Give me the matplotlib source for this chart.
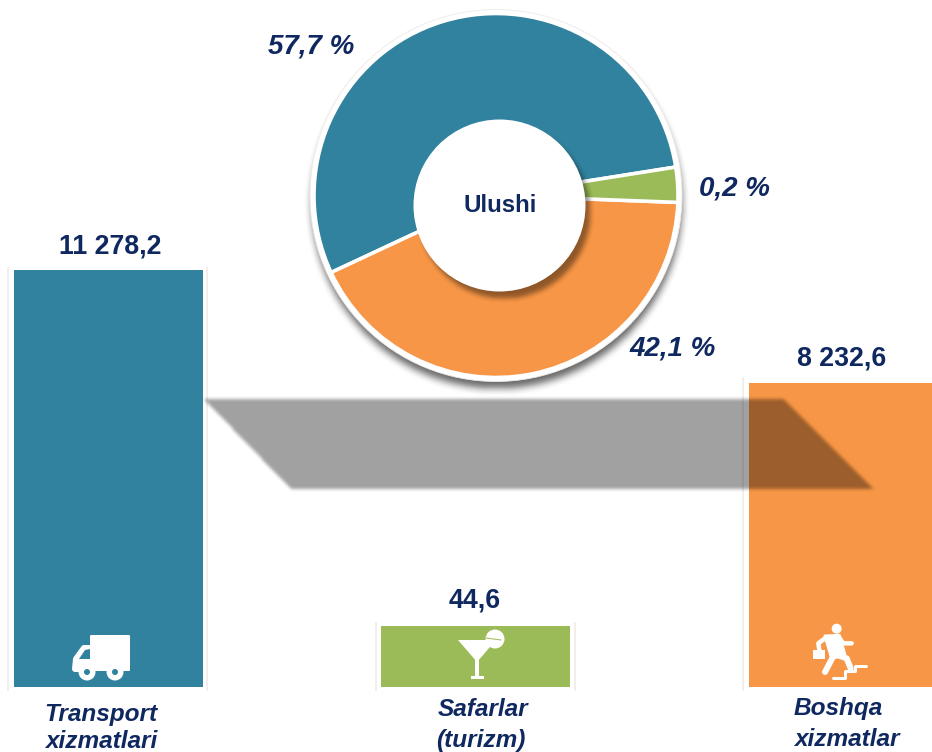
import numpy as np
import matplotlib
matplotlib.use('Agg')
import matplotlib.pyplot as plt
from matplotlib.patches import Circle, Polygon
from matplotlib.path import Path

# Barlar
categories = ['Transport\nxizmatlari', 'Safarlar\n(turizm)', 'Boshqa\nxizmatlar']
bar_values = [11278.2, 1654, 8232.6]  # Safarlar bar is not to scale in the picture
bar_labels = ['11 278,2', '44,6', '8 232,6']

# Halqa: slice sizes as drawn, the printed shares are in share_labels
share_sizes = [54.4, 42.4, 3.1]
share_labels = ['57,7 %', '42,1 %', '0,2 %']

TEAL = '#31829e'
ORANGE = '#f79646'
GREEN = '#9bbb59'
NAVY = '#0f2860'
W, H = 932, 752
FONT = 'Liberation Sans'


def py(y):
    # picture pixels run downwards, the axes upwards
    return H - y


def lw(px):
    return px * 0.72


xx, yy = np.meshgrid(np.arange(W) + 0.5, np.arange(H) + 0.5)


def soft_shadow(ax, mask, blur, alpha, z):
    k = np.ones(blur) / blur
    m = mask.astype(float)
    for _ in range(2):
        m = np.apply_along_axis(lambda r: np.convolve(r, k, mode='same'), 0, m)
        m = np.apply_along_axis(lambda r: np.convolve(r, k, mode='same'), 1, m)
    rgba = np.zeros((H, W, 4))
    rgba[..., 3] = m * alpha
    ax.imshow(rgba, extent=(0, W, 0, H), origin='lower', aspect='auto',
              zorder=z, interpolation='bilinear')


def circle_mask(cx, cy, r):
    return (xx - cx) ** 2 + (yy - py(cy)) ** 2 <= r ** 2


def poly(ax, pts, color='white', z=6, edge=0):
    ax.add_patch(Polygon([(x, py(y)) for x, y in pts], closed=True, fc=color,
                         ec=color if edge else 'none', lw=lw(edge),
                         joinstyle='round', zorder=z))


def dot(ax, x, y, r, color='white', z=6):
    ax.add_patch(Circle((x, py(y)), r, fc=color, ec='none', zorder=z))


def stroke(ax, pts, px, color='white', z=6):
    ax.plot([p[0] for p in pts], [py(p[1]) for p in pts], color=color, lw=lw(px),
            solid_capstyle='round', solid_joinstyle='round', zorder=z)


def truck(ax):
    poly(ax, [(91, 636), (129, 636), (129, 670), (91, 670)], edge=2)
    poly(ax, [(90, 648), (84, 648), (76, 659), (75, 669), (90, 669)], edge=6)
    poly(ax, [(90, 649), (85, 650), (79, 659), (90, 659)], TEAL, 7)
    for x in (87, 115):
        dot(ax, x, 672, 8.5, 'white', 7)
        dot(ax, x, 672, 3, TEAL, 8)


def martini(ax):
    dot(ax, 495, 639, 9.5)
    poly(ax, [(458, 640), (496, 640), (477, 662)])
    stroke(ax, [(486, 638), (501, 640)], 1, GREEN, 7)
    stroke(ax, [(477, 660), (477, 676)], 4)
    poly(ax, [(471, 676), (484, 676), (484, 679), (471, 679)])


def runner(ax):
    def z(x, y):
        return (730 + x / 3, 600 + y / 3)

    dot(ax, *z(320, 86), 5)
    poly(ax, [z(285, 108), z(328, 106), z(345, 165), z(305, 175)], edge=3)
    stroke(ax, [z(285, 115), z(265, 130), z(268, 150)], 4.5)
    stroke(ax, [z(325, 110), z(340, 130), z(365, 130)], 4.5)
    stroke(ax, [z(308, 172), z(285, 216)], 6)
    stroke(ax, [z(322, 165), z(350, 175), z(362, 205)], 6)
    poly(ax, [z(250, 150), z(285, 150), z(285, 176), z(250, 176)])
    stroke(ax, [z(308, 235), z(345, 235), z(345, 214), z(375, 214),
                z(375, 198), z(408, 198)], 3)


def draw_bars(fig):
    # baseline of the bars lies at y = 687 in the picture
    ax = fig.add_axes([0, (H - 687) / H, 1, 687 / H], zorder=1)
    unit = 367.5
    ax.bar(range(3), bar_values, width=189 / unit, color=[TEAL, GREEN, ORANGE])
    ax.set_xlim(-108 / unit, (W - 108) / unit)
    ax.set_ylim(0, 687 / 0.03695)
    ax.axis('off')


def draw_donut(ax):
    cx, cy, r = 496, 195.5, 182
    soft_shadow(ax, circle_mask(cx + 1, cy + 8, r + 3), 9, 0.6, 1)
    ax.add_patch(Circle((cx, py(cy)), r + 4, fc='white', ec='#eeeae6', lw=0.6, zorder=2))
    ax.pie(share_sizes, colors=[TEAL, ORANGE, GREEN], startangle=9, radius=r,
           center=(cx, py(cy)), frame=True,
           wedgeprops={'edgecolor': 'white', 'linewidth': 2.6, 'zorder': 3})
    ix, iy, ir = 499.5, 205.5, 86
    soft_shadow(ax, circle_mask(ix + 4, iy + 8, ir), 6, 0.42, 4)
    ax.add_patch(Circle((ix, py(iy)), ir, fc='white', ec='none', zorder=5))


def main():
    fig = plt.figure(figsize=(W / 100, H / 100), dpi=100)
    draw_bars(fig)

    ax = fig.add_axes([0, 0, 1, 1], zorder=2)
    ax.patch.set_alpha(0)

    # pale lines beside the bars
    for x, top in [(8, 268), (207, 268), (376, 623), (575, 623), (743, 378)]:
        ax.plot([x, x], [py(690), py(top)], color='#efebe9', lw=1.2, zorder=0.5)

    draw_donut(ax)

    # shadow band between the bars
    band = [(203, 400), (782, 400), (873, 490), (290, 490)]
    mask = Path([(x, py(y)) for x, y in band]).contains_points(
        np.c_[xx.ravel(), yy.ravel()]).reshape(H, W)
    soft_shadow(ax, mask, 4, 0.37, 5.5)

    truck(ax)
    martini(ax)
    runner(ax)

    value_style = dict(family=FONT, weight='bold', color=NAVY, ha='center',
                       va='center', zorder=9)
    for label, x, y in zip(bar_labels, [110, 475, 842], [247, 601, 358]):
        ax.text(x, py(y), label, fontsize=19.3, **value_style)
    for label, x, y in zip(share_labels, [311, 673, 734], [47, 349, 188]):
        ax.text(x, py(y), label, fontsize=20, style='italic', **value_style)
    ax.text(500, py(206), 'Ulushi', fontsize=17.4, **value_style)

    name_style = dict(family=FONT, weight='bold', style='italic', color=NAVY,
                      fontsize=17.6, va='center', zorder=9)
    parts = [c.split('\n') for c in categories]
    ax.text(101, py(714), parts[0][0], ha='center', **name_style)
    ax.text(101, py(742), parts[0][1], ha='center', **name_style)
    ax.text(483, py(710), parts[1][0], ha='center', **name_style)
    ax.text(481, py(741), parts[1][1], ha='center', **name_style)
    ax.text(794, py(708), parts[2][0], ha='left', **name_style)
    ax.text(794, py(739), parts[2][1], ha='left', **name_style)

    ax.set_xlim(0, W)
    ax.set_ylim(0, H)
    ax.set_aspect('auto')
    ax.axis('off')
    fig.savefig('out.png', dpi=100, facecolor='white')


if __name__ == "__main__":
    main()
